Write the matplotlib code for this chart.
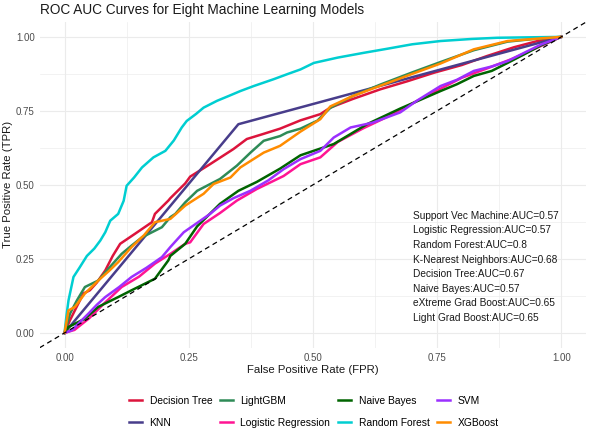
import matplotlib
matplotlib.use("Agg")
import matplotlib.pyplot as plt
from matplotlib.ticker import FormatStrFormatter

plt.rcParams['font.family'] = ['Liberation Sans', 'DejaVu Sans']

# ROC curve points (FPR, TPR)
dt_fpr = [0, 0.011, 0.025, 0.038, 0.051, 0.065, 0.082, 0.097, 0.112, 0.142, 0.176, 0.182, 0.209, 0.213,
          0.243, 0.253, 0.293, 0.34, 0.367, 0.40, 0.434, 0.475, 0.515, 0.535, 0.58, 0.636, 0.69, 0.744,
          0.8, 0.85, 0.905, 0.95, 1]
dt_tpr = [0, 0.043, 0.09, 0.133, 0.144, 0.17, 0.211, 0.26, 0.301, 0.335, 0.374, 0.402, 0.447, 0.455,
          0.505, 0.528, 0.57, 0.621, 0.655, 0.672, 0.69, 0.718, 0.739, 0.761, 0.79, 0.823, 0.85, 0.879,
          0.905, 0.935, 0.965, 0.985, 1]

knn_fpr = [0, 0.35, 1]
knn_tpr = [0, 0.705, 1]

lgbm_fpr = [0, 0.011, 0.025, 0.041, 0.068, 0.09, 0.115, 0.135, 0.156, 0.196, 0.213, 0.223, 0.243, 0.267,
            0.29, 0.313, 0.347, 0.375, 0.401, 0.434, 0.448, 0.475, 0.509, 0.535, 0.58, 0.636, 0.7, 0.757,
            0.824, 0.892, 0.945, 1]
lgbm_tpr = [0, 0.065, 0.11, 0.155, 0.177, 0.22, 0.267, 0.295, 0.323, 0.357, 0.391, 0.402, 0.441, 0.48,
            0.50, 0.52, 0.565, 0.61, 0.649, 0.665, 0.677, 0.69, 0.717, 0.76, 0.80, 0.839, 0.88, 0.915,
            0.955, 0.984, 0.993, 1]

lr_fpr = [0, 0.02, 0.05, 0.08, 0.115, 0.15, 0.182, 0.213, 0.243, 0.253, 0.28, 0.313, 0.347, 0.387, 0.441,
          0.475, 0.515, 0.55, 0.6, 0.65, 0.7, 0.757, 0.8, 0.85, 0.9, 0.96, 1]
lr_tpr = [0, 0.01, 0.05, 0.1, 0.155, 0.19, 0.234, 0.267, 0.301, 0.306, 0.368, 0.405, 0.447, 0.486, 0.53,
          0.57, 0.593, 0.645, 0.69, 0.73, 0.775, 0.825, 0.862, 0.893, 0.925, 0.97, 1]

nb_fpr = [0, 0.008, 0.041, 0.068, 0.108, 0.135, 0.182, 0.209, 0.213, 0.243, 0.267, 0.313, 0.35, 0.387,
          0.434, 0.475, 0.542, 0.609, 0.676, 0.72, 0.757, 0.79, 0.824, 0.86, 0.892, 0.93, 0.96, 1]
nb_tpr = [0, 0.02, 0.048, 0.088, 0.121, 0.144, 0.183, 0.245, 0.26, 0.301, 0.36, 0.436, 0.48, 0.51,
          0.555, 0.6, 0.638, 0.705, 0.758, 0.79, 0.817, 0.84, 0.868, 0.885, 0.912, 0.945, 0.972, 1]

rf_fpr = [0, 0.004, 0.008, 0.018, 0.03, 0.045, 0.06, 0.072, 0.082, 0.092, 0.108, 0.119, 0.125, 0.14,
          0.156, 0.179, 0.203, 0.22, 0.236, 0.246, 0.265, 0.28, 0.307, 0.33, 0.354, 0.381, 0.421, 0.45,
          0.475, 0.502, 0.55, 0.602, 0.65, 0.7, 0.757, 0.82, 0.871, 1]
rf_tpr = [0, 0.06, 0.11, 0.189, 0.22, 0.26, 0.285, 0.312, 0.34, 0.379, 0.402, 0.446, 0.497, 0.525,
          0.559, 0.593, 0.615, 0.65, 0.694, 0.716, 0.74, 0.761, 0.784, 0.80, 0.817, 0.834, 0.857, 0.875,
          0.89, 0.912, 0.93, 0.946, 0.96, 0.975, 0.986, 0.993, 0.997, 1]

svm_fpr = [0, 0.015, 0.03, 0.048, 0.065, 0.082, 0.11, 0.135, 0.165, 0.196, 0.213, 0.24, 0.293, 0.313,
           0.34, 0.374, 0.41, 0.441, 0.475, 0.515, 0.542, 0.576, 0.62, 0.676, 0.71, 0.757, 0.79, 0.824,
           0.86, 0.892, 0.93, 0.959, 1]
svm_tpr = [0, 0.009, 0.035, 0.065, 0.095, 0.121, 0.155, 0.189, 0.22, 0.256, 0.29, 0.34, 0.402, 0.43,
           0.455, 0.48, 0.515, 0.553, 0.587, 0.615, 0.66, 0.694, 0.71, 0.745, 0.785, 0.834, 0.855, 0.885,
           0.9, 0.918, 0.95, 0.974, 1]

xgb_fpr = [0, 0.008, 0.021, 0.041, 0.068, 0.09, 0.108, 0.135, 0.16, 0.182, 0.213, 0.243, 0.253, 0.28,
           0.30, 0.334, 0.354, 0.401, 0.434, 0.475, 0.515, 0.535, 0.58, 0.636, 0.7, 0.757, 0.824, 0.892,
           0.959, 1]
xgb_tpr = [0, 0.076, 0.088, 0.133, 0.177, 0.21, 0.239, 0.29, 0.33, 0.374, 0.385, 0.43, 0.441, 0.47,
           0.503, 0.525, 0.559, 0.609, 0.632, 0.68, 0.722, 0.765, 0.80, 0.835, 0.875, 0.91, 0.958, 0.986,
           0.995, 1]

models = ["Decision Tree", "KNN", "LightGBM", "Logistic Regression",
          "Naive Bayes", "Random Forest", "SVM", "XGBoost"]
colors = ["#DC143C", "#483D8B", "#2E8B57", "#FF1493",
          "#006400", "#00CED1", "#9B30FF", "#FF8C00"]
curves = [(dt_fpr, dt_tpr), (knn_fpr, knn_tpr), (lgbm_fpr, lgbm_tpr), (lr_fpr, lr_tpr),
          (nb_fpr, nb_tpr), (rf_fpr, rf_tpr), (svm_fpr, svm_tpr), (xgb_fpr, xgb_tpr)]

auc_labels = ["Support Vec Machine:AUC=0.57", "Logistic Regression:AUC=0.57",
              "Random Forest:AUC=0.8", "K-Nearest Neighbors:AUC=0.68",
              "Decision Tree:AUC=0.67", "Naive Bayes:AUC=0.57",
              "eXtreme Grad Boost:AUC=0.65", "Light Grad Boost:AUC=0.65"]

fig = plt.figure(figsize=(5.9, 4.33), dpi=100)
ax = fig.add_axes([0.0673, 0.197, 0.926, 0.752])

for (fx, ty), name, col in zip(curves, models, colors):
    ax.plot(fx, ty, color=col, lw=1.8, label=name, solid_joinstyle="round")

ax.axline((0, 0), (1, 1), color="black", lw=0.9, ls=(0, (4, 3)))

for i, txt in enumerate(auc_labels):
    ax.text(0.702, 0.396 - i * 0.0494, txt, fontsize=7.3, color="#1a1a1a",
            ha="left", va="center")

ax.set_xlim(-0.05, 1.05)
ax.set_ylim(-0.05, 1.05)
ticks = [0, 0.25, 0.5, 0.75, 1.0]
ax.set_xticks(ticks)
ax.set_yticks(ticks)
ax.set_xticks([0.125, 0.375, 0.625, 0.875], minor=True)
ax.set_yticks([0.125, 0.375, 0.625, 0.875], minor=True)
ax.xaxis.set_major_formatter(FormatStrFormatter("%.2f"))
ax.yaxis.set_major_formatter(FormatStrFormatter("%.2f"))
ax.tick_params(which="both", length=0, labelsize=7, labelcolor="#4D4D4D")
ax.tick_params(axis="x", pad=4)
ax.tick_params(axis="y", pad=3.5)
ax.grid(which="major", color="#EBEBEB", lw=0.8)
ax.grid(which="minor", color="#EBEBEB", lw=0.45)
ax.set_axisbelow(True)
for s in ax.spines.values():
    s.set_visible(False)

ax.set_xlabel("False Positive Rate (FPR)", fontsize=8.2, color="#1a1a1a", labelpad=1.5)
ax.set_ylabel("True Positive Rate (TPR)", fontsize=8.2, color="#1a1a1a", labelpad=2.5)
ax.set_title("ROC AUC Curves for Eight Machine Learning Models", fontsize=9.8,
             loc="left", color="#1a1a1a", pad=6)

fig.legend(loc="center", bbox_to_anchor=(0.532, 0.049), ncol=4, frameon=False,
           fontsize=7.4, handlelength=1.3, handletextpad=0.7, columnspacing=0.75,
           labelspacing=1.2)

fig.savefig("out.png", dpi=100)
